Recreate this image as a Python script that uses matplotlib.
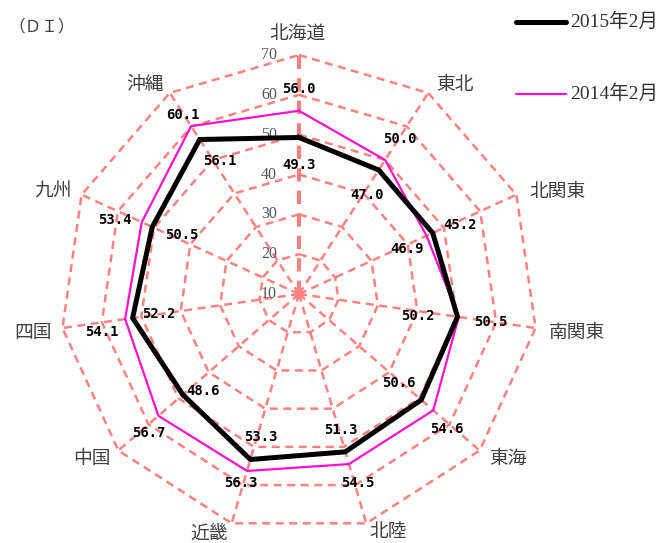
import numpy as np
import matplotlib
matplotlib.use("Agg")
import matplotlib.pyplot as plt

# Regions, clockwise from the top
regions = ["北海道", "東北", "北関東", "南関東", "東海", "北陸",
           "近畿", "中国", "四国", "九州", "沖縄"]
di_2015 = [49.3, 47.0, 46.9, 50.2, 50.6, 51.3, 53.3, 48.6, 52.2, 50.5, 56.1]
di_2014 = [56.0, 50.0, 45.2, 50.5, 54.6, 54.5, 56.3, 56.7, 54.1, 53.4, 60.1]
series_names = ["2015年2月", "2014年2月"]
r_ticks = [10, 20, 30, 40, 50, 60, 70]

# Label offsets in pixels (dx right, dy down) from each vertex
off_2015 = [(0, 28), (-12, 25), (-26, 16), (-40, -1), (-22, -17), (-5, -22),
            (10, -22), (20, -4), (26, -4), (30, 8), (20, 21)]
off_2014 = [(0, -22), (15, -21), (33, -11), (32, 5), (14, 19), (9, 19),
            (-6, 12), (-10, 17), (-23, 13), (-27, -2), (-8, -11)]
off_cat = [(-1, -22), (27, -8), (41, -3), (41, 4), (28, 8), (22, 8),
           (-23, 10), (-26, 8), (-29, 4), (-29, -3), (-25, -8)]

GRID = "#FF8080"
MAGENTA = "#FF10D0"
CJK = ["Noto Sans CJK JP", "DejaVu Sans"]
SERIF_CJK = ["Liberation Serif", "Noto Sans CJK JP"]

W, H = 661, 543
cx, cy, R = 299, 294, 239
fig = plt.figure(figsize=(W / 100, H / 100), dpi=100)
ax = fig.add_axes([(cx - R) / W, (H - cy - R) / H, 2 * R / W, 2 * R / H],
                  projection="polar")
ax.set_theta_zero_location("N")
ax.set_theta_direction(-1)
ax.set_ylim(r_ticks[0], r_ticks[-1])
ax.grid(False)
ax.set_xticks([])
ax.set_yticks([])
ax.spines["polar"].set_visible(False)
ax.patch.set_visible(False)

n = len(regions)
theta = np.arange(n) * 2 * np.pi / n
theta_c = np.append(theta, theta[0])

dash = (0, (3.2, 2.2))
# polygonal rings
for r in r_ticks[1:]:
    ax.plot(theta_c, [r] * (n + 1), color=GRID, lw=1.8, ls=dash, clip_on=False, zorder=1)
# spokes
for i, t in enumerate(theta):
    ax.plot([t, t], [r_ticks[0], r_ticks[-1]], color=GRID,
            lw=3.0 if i == 0 else 1.8, ls=dash, clip_on=False, zorder=1)

# scale labels along the top spoke
for r in r_ticks:
    ax.annotate(str(r), xy=(0, r), xytext=(-22, 0), textcoords="offset pixels",
                ha="right", va="center", fontsize=11.5, color="#555555",
                family="Liberation Serif", annotation_clip=False)

# series
v14 = np.append(di_2014, di_2014[0])
v15 = np.append(di_2015, di_2015[0])
ax.plot(theta_c, v14, color=MAGENTA, lw=1.6, zorder=3, clip_on=False)
ax.plot(theta_c, v15, color="black", lw=3.6, zorder=4, clip_on=False,
        solid_joinstyle="miter")

# value labels
for t, v, (dx, dy) in zip(theta, di_2015, off_2015):
    ax.annotate(f"{v:.1f}", xy=(t, v), xytext=(dx, -dy), textcoords="offset pixels",
                ha="center", va="center", fontsize=10, fontweight="bold",
                family="DejaVu Sans Mono", color="black", zorder=5)
for t, v, (dx, dy) in zip(theta, di_2014, off_2014):
    ax.annotate(f"{v:.1f}", xy=(t, v), xytext=(dx, -dy), textcoords="offset pixels",
                ha="center", va="center", fontsize=10, fontweight="bold",
                family="DejaVu Sans Mono", color="black", zorder=5)

# region names
for t, name, (dx, dy) in zip(theta, regions, off_cat):
    ax.annotate(name, xy=(t, r_ticks[-1]), xytext=(dx, -dy), textcoords="offset pixels",
                ha="center", va="center", fontsize=13.5, color="#404040",
                family=CJK, annotation_clip=False)

# unit label
fig.text(8 / W, 1 - 27 / H, "（ＤＩ）", ha="left", va="center",
         fontsize=12, color="#404040", family=CJK)

# legend
leg_y = [22, 94]
styles = [dict(color="black", lw=3.6), dict(color=MAGENTA, lw=1.6)]
for name, y, st in zip(series_names, leg_y, styles):
    fig.add_artist(plt.Line2D([516 / W, 566 / W], [1 - y / H, 1 - y / H],
                              solid_capstyle="round", **st))
    fig.text(570 / W, 1 - y / H, name, ha="left", va="center",
             fontsize=14, color="#333333", family=SERIF_CJK)

fig.savefig("out.png", dpi=100)
